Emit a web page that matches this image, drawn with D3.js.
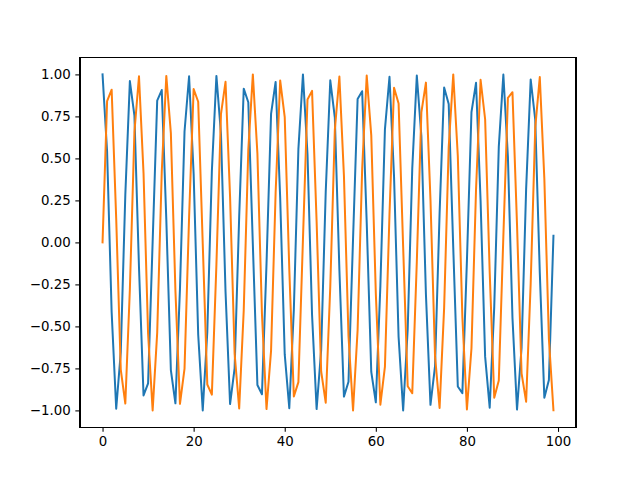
<!DOCTYPE html>
<html>
<head>
<meta charset="utf-8">
<script src="https://cdn.jsdelivr.net/npm/d3@7"></script>
<style>
body { margin: 0; background: #fff; }
svg { display: block; }
text { font-family: "DejaVu Sans", sans-serif; }
</style>
</head>
<body>
<svg id="chart" width="640" height="480"></svg>
<script>
const xIndex = d3.range(100);
const blueSeries = [1.000,0.540,-0.416,-0.990,-0.654,0.284,0.960,0.754,-0.146,-0.911,
-0.839,0.004,0.844,0.907,0.137,-0.760,-0.958,-0.275,0.660,0.989,
0.408,-0.548,-1.000,-0.533,0.424,0.991,0.647,-0.292,-0.962,-0.748,
0.154,0.915,0.834,-0.013,-0.849,-0.904,-0.128,0.765,0.955,0.267,
-0.667,-0.987,-0.400,0.555,1.000,0.525,-0.432,-0.992,-0.640,0.300,
0.965,0.742,-0.163,-0.918,-0.829,0.022,0.853,0.900,0.119,-0.771,
-0.952,-0.258,0.673,0.986,0.392,-0.563,-1.000,-0.517,0.440,0.993,
0.633,-0.309,-0.967,-0.736,0.172,0.922,0.824,-0.031,-0.858,-0.897,
-0.110,0.776,0.950,0.249,-0.680,-0.984,-0.384,0.570,0.999,0.510,
-0.448,-0.995,-0.626,0.317,0.970,0.730,-0.180,-0.925,-0.819,0.040];
const orangeSeries = [0.000,0.841,0.909,0.141,-0.757,-0.959,-0.279,0.657,0.989,0.412,
-0.544,-1.000,-0.537,0.420,0.991,0.650,-0.288,-0.961,-0.751,0.150,
0.913,0.837,-0.009,-0.846,-0.906,-0.132,0.763,0.956,0.271,-0.664,
-0.988,-0.404,0.551,1.000,0.529,-0.428,-0.992,-0.644,0.296,0.964,
0.745,-0.159,-0.917,-0.832,0.018,0.851,0.902,0.124,-0.768,-0.954,
-0.262,0.670,0.987,0.396,-0.559,-1.000,-0.522,0.436,0.993,0.637,
-0.305,-0.966,-0.739,0.167,0.920,0.827,-0.027,-0.856,-0.898,-0.115,
0.774,0.951,0.254,-0.677,-0.985,-0.388,0.566,1.000,0.514,-0.444,
-0.994,-0.630,0.313,0.968,0.733,-0.176,-0.924,-0.822,0.035,0.860,
0.894,0.106,-0.780,-0.948,-0.245,0.683,0.984,0.379,-0.574,-0.999];
const xTicks = [0, 20, 40, 60, 80, 100];
const yTicks = [-1.00, -0.75, -0.50, -0.25, 0.00, 0.25, 0.50, 0.75, 1.00];

const svg = d3.select("#chart");
const L = 80, R = 576, T = 57.6, B = 427.2;
const x = d3.scaleLinear().domain([-4.95, 103.95]).range([L, R]);
const y = d3.scaleLinear().domain([-1.1, 1.1]).range([B, T]);

const fmt = v => d3.format(".2f")(v).replace("-", "\u2212");

const line = d3.line().x((d, i) => x(xIndex[i])).y(d => y(d));
const g = svg.append("g");
g.append("path").datum(blueSeries).attr("d", line)
  .attr("fill", "none").attr("stroke", "#1f77b4").attr("stroke-width", 2)
  .attr("stroke-linejoin", "round").attr("stroke-linecap", "square");
g.append("path").datum(orangeSeries).attr("d", line)
  .attr("fill", "none").attr("stroke", "#ff7f0e").attr("stroke-width", 2)
  .attr("stroke-linejoin", "round").attr("stroke-linecap", "square");

const xAxis = d3.axisBottom(x).tickValues(xTicks).tickSize(4.67).tickPadding(4.67).tickFormat(d3.format("d"));
const yAxis = d3.axisLeft(y).tickValues(yTicks).tickSize(4.67).tickPadding(4.67).tickFormat(fmt);

const gx = svg.append("g").attr("transform", `translate(0,${B})`).call(xAxis);
const gy = svg.append("g").attr("transform", `translate(${L},0)`).call(yAxis);
[gx, gy].forEach(a => {
  a.select(".domain").remove();
  a.selectAll(".tick line").attr("stroke", "#000").attr("stroke-width", 1.07);
  a.selectAll(".tick text").attr("fill", "#000").style("font-size", "13.33px")
    .style("font-family", "'DejaVu Sans', sans-serif");
});

svg.append("rect").attr("x", L).attr("y", T).attr("width", R - L).attr("height", B - T)
  .attr("fill", "none").attr("stroke", "#000").attr("stroke-width", 1.07)
  .attr("shape-rendering", "crispEdges");
</script>
</body>
</html>
